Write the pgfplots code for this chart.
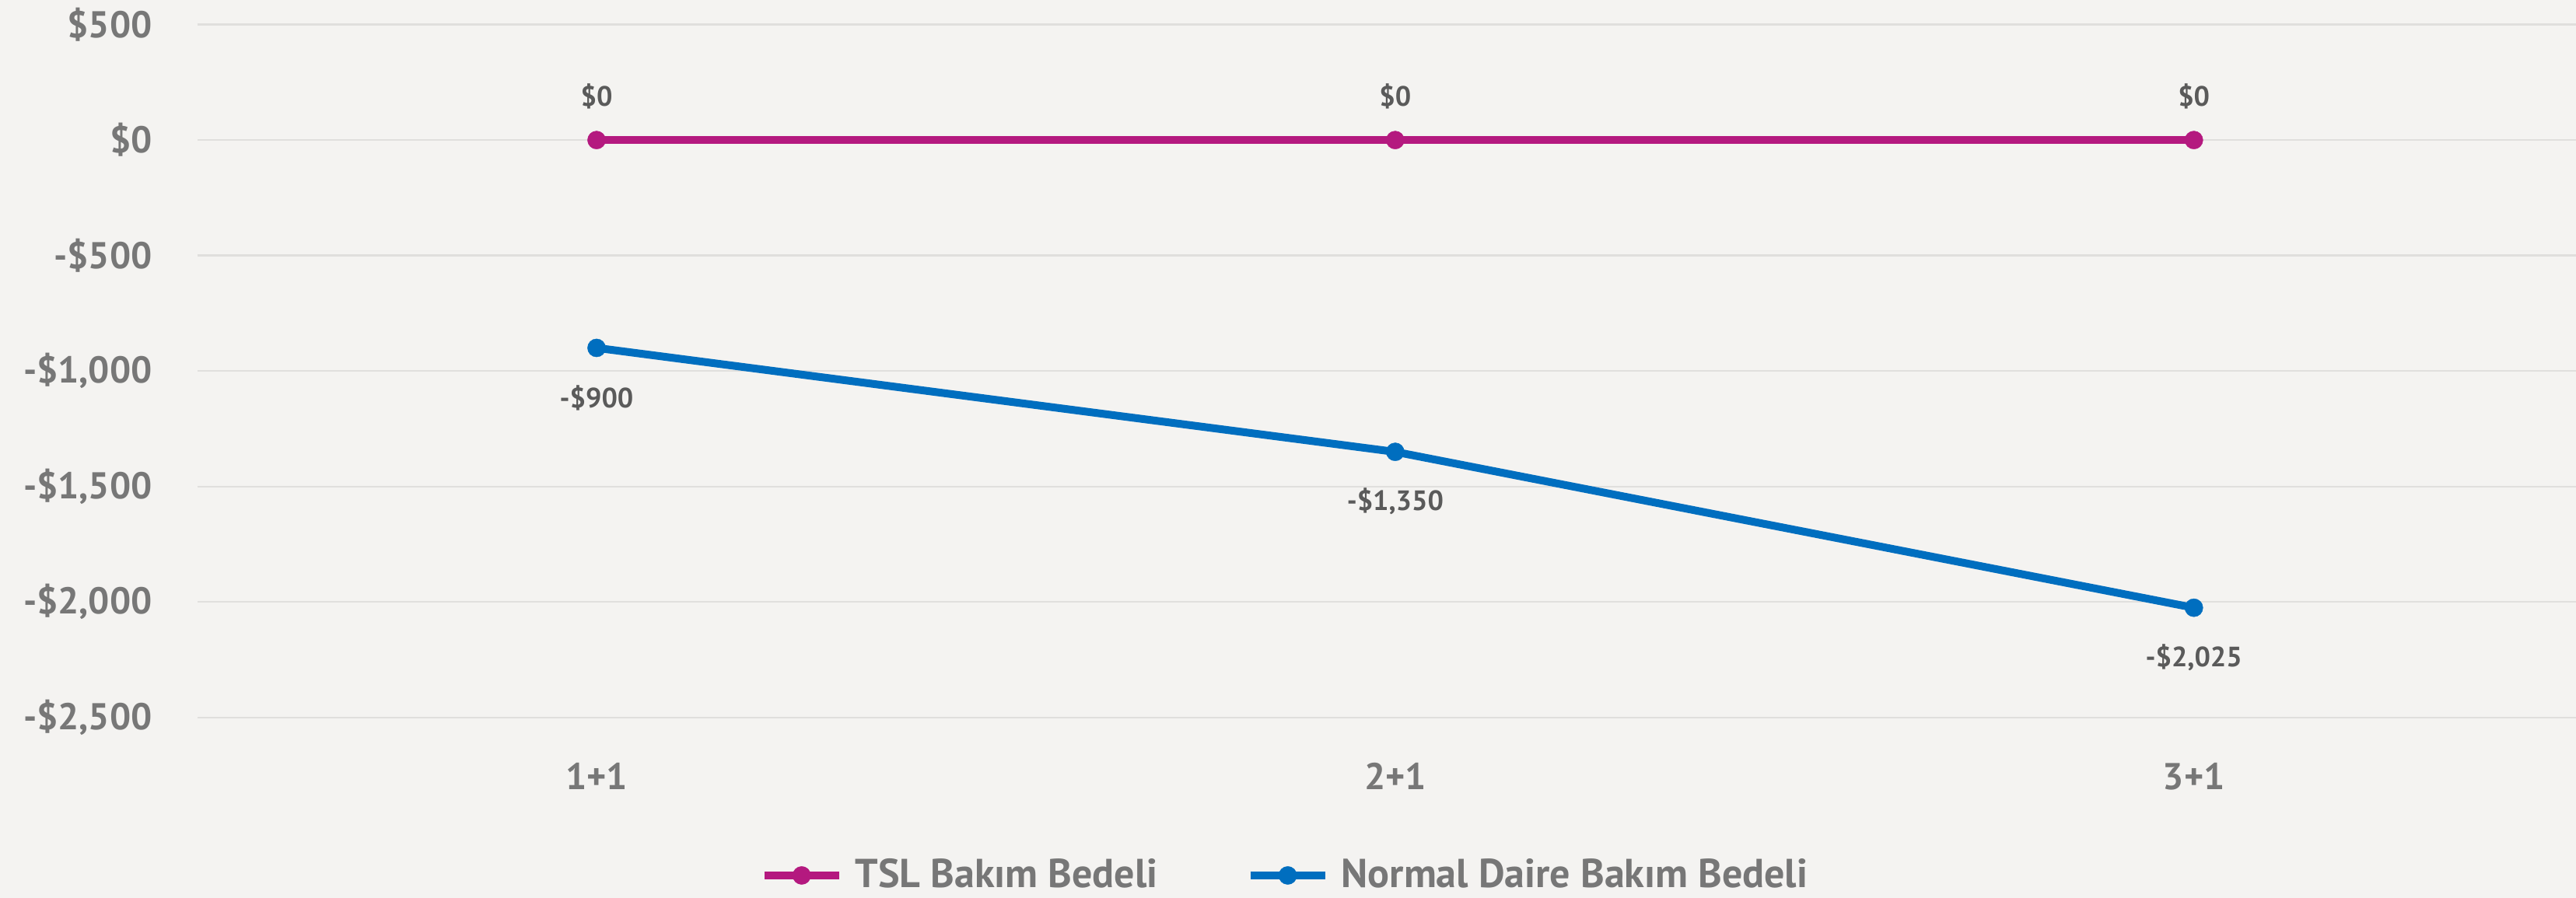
\documentclass[border=0pt]{standalone}
\usepackage{pgfplots}
\pgfplotsset{compat=1.18}
\usepackage{fontspec}
\setmainfont{PT Sans}
\definecolor{tslc}{HTML}{B4197F}
\definecolor{normc}{HTML}{006EBF}
\definecolor{bgc}{HTML}{F4F3F1}
\definecolor{gridc}{HTML}{E0DFDD}
\definecolor{tickc}{HTML}{777777}
\definecolor{labc}{HTML}{5A5A5A}
\begin{document}
\begin{tikzpicture}
\fill[bgc] (-63.4pt,-58pt) rectangle (764.6pt,230.7pt);
\begin{axis}[
  at={(0,0)}, anchor=south west,
  width=765pt, height=222.8pt, scale only axis,
  xmin=-0.5, xmax=2.48, ymin=-2500, ymax=500,
  clip=false,
  axis line style={draw=none},
  major tick length=0pt,
  xtick={0,1,2}, xticklabels={1+1,2+1,3+1},
  ytick={-2500,-2000,-1500,-1000,-500,0,500},
  yticklabels={{-\$2,500},{-\$2,000},{-\$1,500},{-\$1,000},{-\$500},{\$0},{\$500}},
  ymajorgrids, grid style={gridc, line width=0.6pt},
  tick label style={font=\bfseries\fontsize{12}{14}\selectfont, text=tickc},
  yticklabel style={xshift=-11pt},
  xticklabel style={anchor=center, yshift=-19pt},
  legend style={at={(0.458,-0.228)}, anchor=center, draw=none, fill=none,
    font=\bfseries\fontsize{13}{15}\selectfont, text=tickc,
    /tikz/column 1/.style={column sep=2pt},
    /tikz/column 2/.style={column sep=26.5pt},
    /tikz/column 3/.style={column sep=2pt}},
  legend columns=2,
  legend image code/.code={\draw[mark repeat=2,mark phase=2,#1] plot coordinates {(0pt,0pt) (12pt,0pt) (24pt,0pt)};},
  nodes near coords, point meta=explicit symbolic,
]
\addplot[tslc, line width=2.5pt, mark=*, mark size=2.9pt, mark options={solid, line width=0.1pt},
  every node near coord/.append style={anchor=center, yshift=14pt, font=\bfseries\fontsize{9}{11}\selectfont, text=labc}]
  coordinates {(0,0) [\$0] (1,0) [\$0] (2,0) [\$0]};
\addlegendentry{TSL Bakım Bedeli}
\addplot[normc, line width=2.5pt, mark=*, mark size=2.9pt, mark options={solid, line width=0.1pt},
  every node near coord/.append style={anchor=center, yshift=-16pt, font=\bfseries\fontsize{9}{11}\selectfont, text=labc}]
  coordinates {(0,-900) [-\$900] (1,-1350) [{-\$1,350}] (2,-2025) [{-\$2,025}]};
\addlegendentry{Normal Daire Bakım Bedeli}
\end{axis}
\pgfresetboundingbox
\useasboundingbox (-63.4pt,-58pt) rectangle (764.6pt,230.7pt);
\end{tikzpicture}
\end{document}
